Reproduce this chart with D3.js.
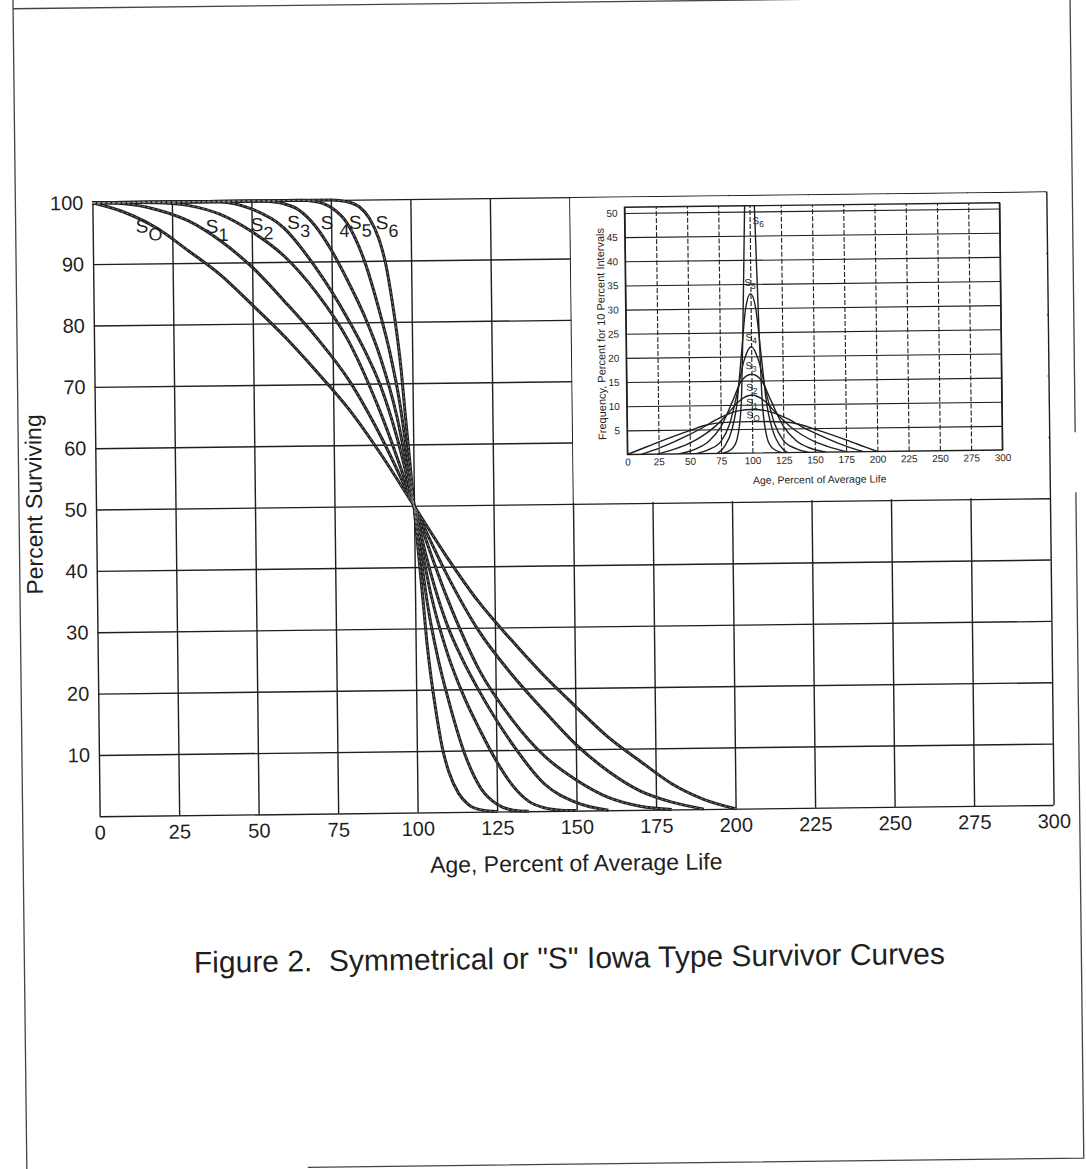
<!DOCTYPE html>
<html>
<head>
<meta charset="utf-8">
<script src="https://cdn.jsdelivr.net/npm/d3@7"></script>
<style>
  html, body { margin: 0; padding: 0; background: #fff; }
  svg { display: block; font-family: "Liberation Sans", Arial, Helvetica, sans-serif; }
</style>
</head>
<body>
<div id="chart"></div>
<script>
// tick values
const ageTicks = [0, 25, 50, 75, 100, 125, 150, 175, 200, 225, 250, 275, 300]
const survivingTicks = [0, 10, 20, 30, 40, 50, 60, 70, 80, 90, 100]
const frequencyTicks = [5, 10, 15, 20, 25, 30, 35, 40, 45, 50]

const curveNames = ['S0', 'S1', 'S2', 'S3', 'S4', 'S5', 'S6']
const curveSubs = ['O', '1', '2', '3', '4', '5', '6']

// percent surviving, [age % of average life, percent]
const survivorS0 = [[0, 100], [10, 98.4], [20, 95.8], [30, 92], [40, 88], [50, 83], [60, 77.8], [70, 72], [80, 65.8], [90, 58.3], [100, 50],
  [110, 41.7], [120, 34.2], [130, 28], [140, 22.2], [150, 17], [160, 12], [170, 8], [180, 4.2], [190, 1.6], [200, 0]]
const survivorS1 = [[0, 100], [10, 99.8], [20, 98.8], [30, 96.9], [40, 93.6], [50, 89.2], [60, 83.6], [70, 77.6], [80, 70.6], [90, 61.2], [100, 50],
  [110, 38.8], [120, 29.4], [130, 22.4], [140, 16.4], [150, 10.8], [160, 6.4], [170, 3.1], [180, 1.2], [190, 0]]
const survivorS2 = [[0, 100], [20, 99.9], [30, 99.4], [40, 97.9], [50, 95], [60, 91], [70, 85], [80, 77], [90, 65], [100, 50],
  [110, 35], [120, 23], [130, 15], [140, 9], [150, 5], [160, 2.1], [170, 0.6], [180, 0]]
const survivorS3 = [[0, 100], [40, 99.9], [50, 98.7], [60, 95.6], [70, 89], [80, 80.5], [85, 75.5], [90, 69.5], [95, 61], [100, 50],
  [105, 39], [110, 30.5], [115, 24.5], [120, 19.5], [130, 11], [140, 4.4], [150, 1.3], [160, 0]]
const survivorS4 = [[0, 100], [50, 100], [55, 99.9], [60, 99.5], [65, 98.4], [70, 95.8], [75, 91.8], [80, 86.8], [85, 81.2], [90, 74.2], [95, 64.5], [100, 50],
  [105, 35.5], [110, 25.8], [115, 18.8], [120, 13.2], [125, 8.2], [130, 4.2], [135, 1.6], [140, 0.5], [145, 0.1], [150, 0]]
const survivorS5 = [[0, 100], [65, 100], [70, 99.8], [75, 98.8], [80, 96.2], [85, 90.5], [90, 81.5], [93, 75], [96, 66.5], [98, 58.5], [100, 50],
  [102, 41.5], [104, 33.5], [107, 25], [110, 18.5], [115, 9.5], [120, 3.8], [125, 1.2], [130, 0.2], [135, 0]]
const survivorS6 = [[0, 100], [75, 100], [80, 99.7], [84, 98.8], [87, 97], [90, 93.5], [92, 89.5], [94, 83], [95.5, 77], [96.5, 72], [97.5, 65.5], [98.8, 57.5], [100, 50],
  [101.2, 42.5], [102.5, 34.5], [103.5, 28], [104.5, 23], [106, 17], [108, 10.5], [110, 6.5], [113, 3], [116, 1.2], [120, 0.3], [125, 0]]

// frequency, percent for 10 percent intervals, [age, frequency]
const frequencyS0 = [[0, 0], [10, 1], [25, 2.5], [50, 4.8], [65, 6], [80, 6.4], [100, 6.5], [120, 6.4], [135, 6], [150, 4.8], [175, 2.5], [190, 1], [200, 0]]
const frequencyS1 = [[11, 0], [25, 1.2], [40, 2.8], [50, 4], [60, 5.3], [70, 6.8], [80, 8], [90, 8.8], [100, 9], [110, 8.8], [120, 8], [130, 6.8], [140, 5.3], [150, 4], [160, 2.8], [175, 1.2], [189, 0]]
const frequencyS2 = [[24, 0], [40, 1.2], [50, 2.2], [60, 3.6], [70, 5.5], [80, 8], [90, 10.8], [100, 12], [110, 10.8], [120, 8], [130, 5.5], [140, 3.6], [150, 2.2], [160, 1.2], [176, 0]]
const frequencyS3 = [[41, 0], [55, 1], [65, 2.5], [75, 5.5], [85, 11], [92, 15], [100, 16.3], [108, 15], [115, 11], [125, 5.5], [135, 2.5], [145, 1], [159, 0]]
const frequencyS4 = [[55, 0], [65, 0.8], [75, 2.5], [82, 6], [88, 12], [94, 19], [100, 22], [106, 19], [112, 12], [118, 6], [125, 2.5], [135, 0.8], [145, 0]]
const frequencyS5 = [[72, 0], [78, 1.5], [84, 5], [88, 10], [92, 20], [96, 30], [100, 33], [104, 30], [108, 20], [112, 10], [116, 5], [122, 1.5], [128, 0]]
const frequencyS6 = [[76, 0], [84, 1], [88, 3], [91.5, 10], [93.5, 25], [95.5, 45], [96.5, 55], [100, 70], [103.5, 55], [104.5, 45], [106.5, 25], [108.5, 10], [112, 3], [116, 1], [124, 0]]

const survivorSeries = [survivorS0, survivorS1, survivorS2, survivorS3, survivorS4, survivorS5, survivorS6]
const frequencySeries = [frequencyS0, frequencyS1, frequencyS2, frequencyS3, frequencyS4, frequencyS5, frequencyS6]

// where the curve names sit, in chart units [age, value]
const survivorLabelSpots = [[15.4, 96.1], [37.4, 95.9], [51.6, 96.1], [63.1, 96.4], [73.6, 96.3], [82.5, 96.3], [90.9, 96.2]]
const frequencyLabelSpots = [[98, 7.8], [98, 10.4], [98, 13.5], [97.6, 18], [98, 23.9], [97.6, 35.2], [104.6, 48]]

const ink = '#1f1f1f'
const width = 1086
const height = 1169

const svg = d3.select('#chart')
  .append('svg')
  .attr('width', width)
  .attr('height', height)
  .attr('viewBox', [0, 0, width, height].join(' '))

// the scanned sheet sits a little skewed on the page
const page = svg.append('g').attr('transform', 'rotate(-0.68 416 506)')

// edge of the sheet
page.append('path')
  .attr('d', 'M19,-20 L19,1190 M19,4 L1076,4 L1076,440 M1076,500 L1076,1166 L300,1166')
  .attr('fill', 'none')
  .attr('stroke', '#444')
  .attr('stroke-width', 1.3)

// main chart
const x = d3.scaleLinear().domain([0, 300]).range([96, 1050])
const y = d3.scaleLinear().domain([0, 100]).range([812.5, 199])

const styleAxis = (g, size) => g
  .call(g => g.select('.domain').remove())
  .call(g => g.selectAll('line').attr('stroke', ink).attr('stroke-width', 1.4))
  .call(g => g.selectAll('text')
    .attr('fill', ink)
    .style('font-family', '"Liberation Sans", Arial, sans-serif')
    .style('font-size', `${size}px`))

page.append('g')
  .attr('class', 'x')
  .attr('transform', `translate(0,${y(0)})`)
  .call(d3.axisBottom(x).tickValues(ageTicks).tickSize(-(y(0) - y(100))).tickPadding(9))
  .call(g => styleAxis(g, 20))

page.append('g')
  .attr('class', 'y')
  .attr('transform', `translate(${x(0)},0)`)
  .call(d3.axisLeft(y).tickValues(survivingTicks).tickSize(-(x(300) - x(0))).tickPadding(9)
    .tickFormat(d => d === 0 ? '' : d))
  .call(g => styleAxis(g, 20))

page.append('text')
  .attr('x', 572)
  .attr('y', 873)
  .attr('text-anchor', 'middle')
  .attr('fill', ink)
  .style('font-size', '23px')
  .text('Age, Percent of Average Life')

page.append('text')
  .attr('transform', 'translate(42,500) rotate(-90)')
  .attr('text-anchor', 'middle')
  .attr('fill', ink)
  .style('font-size', '23px')
  .text('Percent Surviving')

// survivor curves
const survivorLine = d3.line()
  .x(d => x(d[0]))
  .y(d => y(d[1]))
  .curve(d3.curveMonotoneX)

const curves = page.append('g').attr('class', 'curves').attr('fill', 'none')

curves.selectAll('path.outer')
  .data(survivorSeries)
  .join('path')
  .attr('class', 'outer')
  .attr('d', survivorLine)
  .attr('stroke', ink)
  .attr('stroke-width', 3)

curves.selectAll('path.inner')
  .data(survivorSeries)
  .join('path')
  .attr('class', 'inner')
  .attr('d', survivorLine)
  .attr('stroke', '#8a8a8a')
  .attr('stroke-width', 0.8)
  .attr('stroke-dasharray', '3,2')

const survivorLabels = page.append('g')
  .attr('fill', ink)
  .selectAll('text')
  .data(curveNames)
  .join('text')
  .attr('x', (d, i) => x(survivorLabelSpots[i][0]) - 6)
  .attr('y', (d, i) => y(survivorLabelSpots[i][1]) + 6.5)
  .style('font-size', '19px')

survivorLabels.append('tspan').text('S')
survivorLabels.append('tspan')
  .attr('dx', d => d === 'S4' ? 6 : 0)
  .attr('dy', 8)
  .style('font-size', '18px')
  .text((d, i) => curveSubs[i])

// inset panel covers the upper right of the main grid
page.append('rect')
  .attr('x', x(150) + 0.8)
  .attr('y', y(100) + 0.8)
  .attr('width', x(300) - x(150) - 1.6)
  .attr('height', y(50) - y(100) - 1.6)
  .attr('fill', '#fff')

// inset: frequency curves
const ix = d3.scaleLinear().domain([0, 300]).range([628, 1003])
const iy = d3.scaleLinear().domain([0, 50]).range([457, 215.5])
const insetTop = iy(51.2)

const inset = page.append('g').attr('class', 'inset')

inset.append('g')
  .attr('transform', `translate(0,${iy(0)})`)
  .call(d3.axisBottom(ix).tickValues(ageTicks).tickSize(-(iy(0) - insetTop)).tickPadding(4))
  .call(g => styleAxis(g, 10))
  .call(g => g.selectAll('line')
    .attr('stroke-width', 1.1)
    .attr('stroke-dasharray', d => d === 0 || d === 300 ? null : '5,2'))

inset.append('g')
  .attr('transform', `translate(${ix(0)},0)`)
  .call(d3.axisLeft(iy).tickValues(frequencyTicks).tickSize(-(ix(300) - ix(0))).tickPadding(7))
  .call(g => styleAxis(g, 10))
  .call(g => g.selectAll('line').attr('stroke-width', 1.1))

inset.append('rect')
  .attr('x', ix(0))
  .attr('y', insetTop)
  .attr('width', ix(300) - ix(0))
  .attr('height', iy(0) - insetTop)
  .attr('fill', 'none')
  .attr('stroke', ink)
  .attr('stroke-width', 1.4)

inset.append('text')
  .attr('x', 820)
  .attr('y', 488)
  .attr('text-anchor', 'middle')
  .attr('fill', ink)
  .style('font-size', '10.5px')
  .text('Age, Percent of Average Life')

inset.append('text')
  .attr('transform', `translate(607,${iy(25)}) rotate(-90)`)
  .attr('text-anchor', 'middle')
  .attr('fill', ink)
  .style('font-size', '11px')
  .text('Frequency, Percent for 10 Percent Intervals')

svg.append('clipPath')
  .attr('id', 'inset-clip')
  .append('rect')
  .attr('x', ix(0))
  .attr('y', insetTop)
  .attr('width', ix(300) - ix(0))
  .attr('height', iy(0) - insetTop)

const frequencyLine = d3.line()
  .x(d => ix(d[0]))
  .y(d => iy(d[1]))
  .curve(d3.curveMonotoneX)

inset.append('g')
  .attr('clip-path', 'url(#inset-clip)')
  .attr('fill', 'none')
  .selectAll('path')
  .data(frequencySeries)
  .join('path')
  .attr('d', frequencyLine)
  .attr('stroke', ink)
  .attr('stroke-width', 1.4)

const frequencyLabels = inset.append('g')
  .attr('fill', ink)
  .selectAll('text')
  .data(curveNames)
  .join('text')
  .attr('x', (d, i) => ix(frequencyLabelSpots[i][0]) - 3)
  .attr('y', (d, i) => iy(frequencyLabelSpots[i][1]) + 3)
  .style('font-size', '10px')

frequencyLabels.append('tspan').text('S')
frequencyLabels.append('tspan')
  .attr('dy', 3)
  .style('font-size', '8.5px')
  .text((d, i) => curveSubs[i])

// caption
page.append('text')
  .attr('x', 564)
  .attr('y', 970)
  .attr('text-anchor', 'middle')
  .attr('fill', ink)
  .style('font-size', '30px')
  .attr('xml:space', 'preserve')
  .text('Figure 2.  Symmetrical or "S" Iowa Type Survivor Curves')
</script>
</body>
</html>
